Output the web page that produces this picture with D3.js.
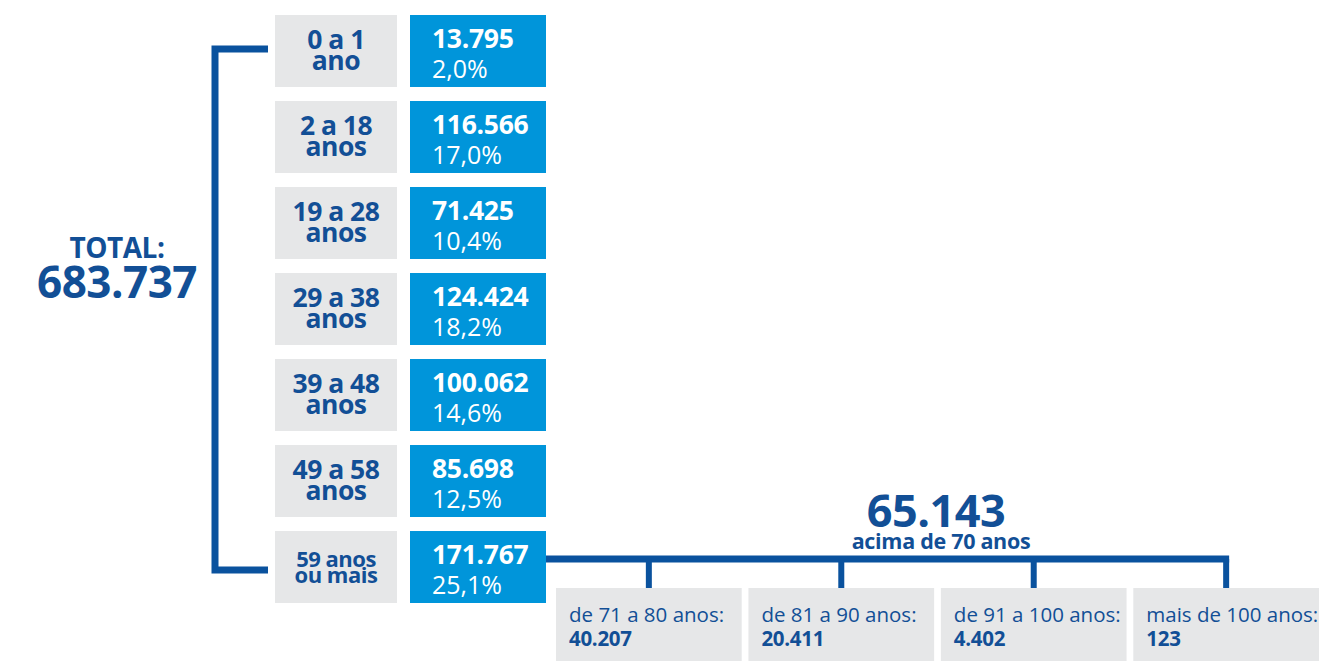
<!DOCTYPE html>
<html><head><meta charset="utf-8">
<script src="https://cdn.jsdelivr.net/npm/d3@7"></script>
<style>body{margin:0;background:#fff}svg{display:block;font-family:"Open Sans",sans-serif}</style>
</head><body>
<script>
// ---- data ----
const ageLine1 = ["0 a 1", "2 a 18", "19 a 28", "29 a 38", "39 a 48", "49 a 58", "59 anos"];
const ageLine2 = ["ano", "anos", "anos", "anos", "anos", "anos", "ou mais"];
const counts = [13795, 116566, 71425, 124424, 100062, 85698, 171767];
const shares = [2.0, 17.0, 10.4, 18.2, 14.6, 12.5, 25.1];
const total = 683737;
const elderTotal = 65143;
const elderLabel = "acima de 70 anos";
const elderGroups = ["de 71 a 80 anos:", "de 81 a 90 anos:", "de 91 a 100 anos:", "mais de 100 anos:"];
const elderCounts = [40207, 20411, 4402, 123];

// ---- layout ----
const W = 1319, H = 661;
const dark = "#0a529e", textDark = "#124f96", blue = "#0095da", gray = "#e6e7e8";
const fmtInt = d3.formatLocale({decimal: ",", thousands: ".", grouping: [3], currency: ["", ""]});
const fInt = fmtInt.format(",d");
const fPct = fmtInt.format(".1f");

const svg = d3.select("body").append("svg").attr("width", W).attr("height", H);

const y = d3.scaleBand().domain(d3.range(counts.length)).range([15, 603]).paddingInner(0.163).paddingOuter(0);
const grayX = [275, 397], blueX = [410, 546];

// bracket
const yTop = y(0) + y.bandwidth() / 2 - 2, yBot = y(counts.length - 1) + y.bandwidth() / 2 + 3;
svg.append("path")
  .attr("d", `M268,${yTop}H215V${yBot}H268`)
  .attr("fill", "none").attr("stroke", dark).attr("stroke-width", 7);

// total
svg.append("text").attr("x", 117).attr("y", 258).attr("text-anchor", "middle")
  .attr("font-size", 28).attr("font-weight", 700).attr("fill", textDark).attr("letter-spacing", -0.5).text("TOTAL:");
svg.append("text").attr("x", 117).attr("y", 298).attr("text-anchor", "middle")
  .attr("font-size", 44).attr("font-weight", 700).attr("fill", textDark).attr("letter-spacing", -0.5).text(fInt(total));

// rows
const rows = svg.selectAll("g.row").data(counts).join("g").attr("class", "row")
  .attr("transform", (d, i) => `translate(0,${y(i)})`);
rows.append("rect").attr("x", grayX[0]).attr("width", grayX[1] - grayX[0]).attr("height", y.bandwidth()).attr("fill", gray);
rows.append("rect").attr("x", blueX[0]).attr("width", blueX[1] - blueX[0]).attr("height", y.bandwidth()).attr("fill", blue);
rows.each(function (d, i) {
  const g = d3.select(this);
  const small = ageLine2[i].length > 4;
  const fs = small ? 22 : 26.5;
  g.append("text").attr("x", (grayX[0] + grayX[1]) / 2).attr("y", small ? 36 : 34)
    .attr("text-anchor", "middle").attr("font-size", fs).attr("font-weight", 700)
    .attr("fill", textDark).attr("letter-spacing", -0.5).text(ageLine1[i]);
  g.append("text").attr("x", (grayX[0] + grayX[1]) / 2).attr("y", small ? 52 : 55)
    .attr("text-anchor", "middle").attr("font-size", fs).attr("font-weight", 700)
    .attr("fill", textDark).attr("letter-spacing", -0.5).text(ageLine2[i]);
  g.append("text").attr("x", 432).attr("y", 33).attr("font-size", 26.5).attr("font-weight", 700)
    .attr("fill", "#fff").attr("letter-spacing", -0.3).text(fInt(d));
  g.append("text").attr("x", 432).attr("y", 63).attr("font-size", 25).attr("font-weight", 400)
    .attr("fill", "#fff").text(fPct(shares[i]) + "%");
});

// elder breakdown
const xb = d3.scaleBand().domain(d3.range(elderGroups.length)).range([556, 1319]).paddingInner(0.035).paddingOuter(0);
const lineY = 559, boxTop = 588;
const tickX = i => xb(i) + xb.bandwidth() / 2;
svg.append("path")
  .attr("d", `M${blueX[1]},${lineY}H${tickX(elderGroups.length - 1) + 3}`)
  .attr("stroke", dark).attr("stroke-width", 7).attr("fill", "none");
svg.selectAll("line.tick").data(elderGroups).join("line").attr("class", "tick")
  .attr("x1", (d, i) => tickX(i)).attr("x2", (d, i) => tickX(i))
  .attr("y1", lineY).attr("y2", boxTop).attr("stroke", dark).attr("stroke-width", 6);

svg.append("text").attr("x", 936).attr("y", 527).attr("text-anchor", "middle")
  .attr("font-size", 45).attr("font-weight", 700).attr("fill", textDark).attr("letter-spacing", -0.5).text(fInt(elderTotal));
svg.append("text").attr("x", 941).attr("y", 549).attr("text-anchor", "middle")
  .attr("font-size", 21.5).attr("font-weight", 700).attr("fill", textDark).attr("letter-spacing", -0.3).text(elderLabel);

const eb = svg.selectAll("g.eb").data(elderGroups).join("g").attr("class", "eb")
  .attr("transform", (d, i) => `translate(${xb(i)},${boxTop})`);
eb.append("rect").attr("width", xb.bandwidth()).attr("height", H - boxTop).attr("fill", gray);
eb.append("text").attr("x", 13).attr("y", 34).attr("font-size", 20.5).attr("fill", textDark).text(d => d);
eb.append("text").attr("x", 13).attr("y", 58).attr("font-size", 20.5).attr("font-weight", 700)
  .attr("fill", textDark).attr("letter-spacing", -0.3).text((d, i) => fInt(elderCounts[i]));
</script>
</body></html>
